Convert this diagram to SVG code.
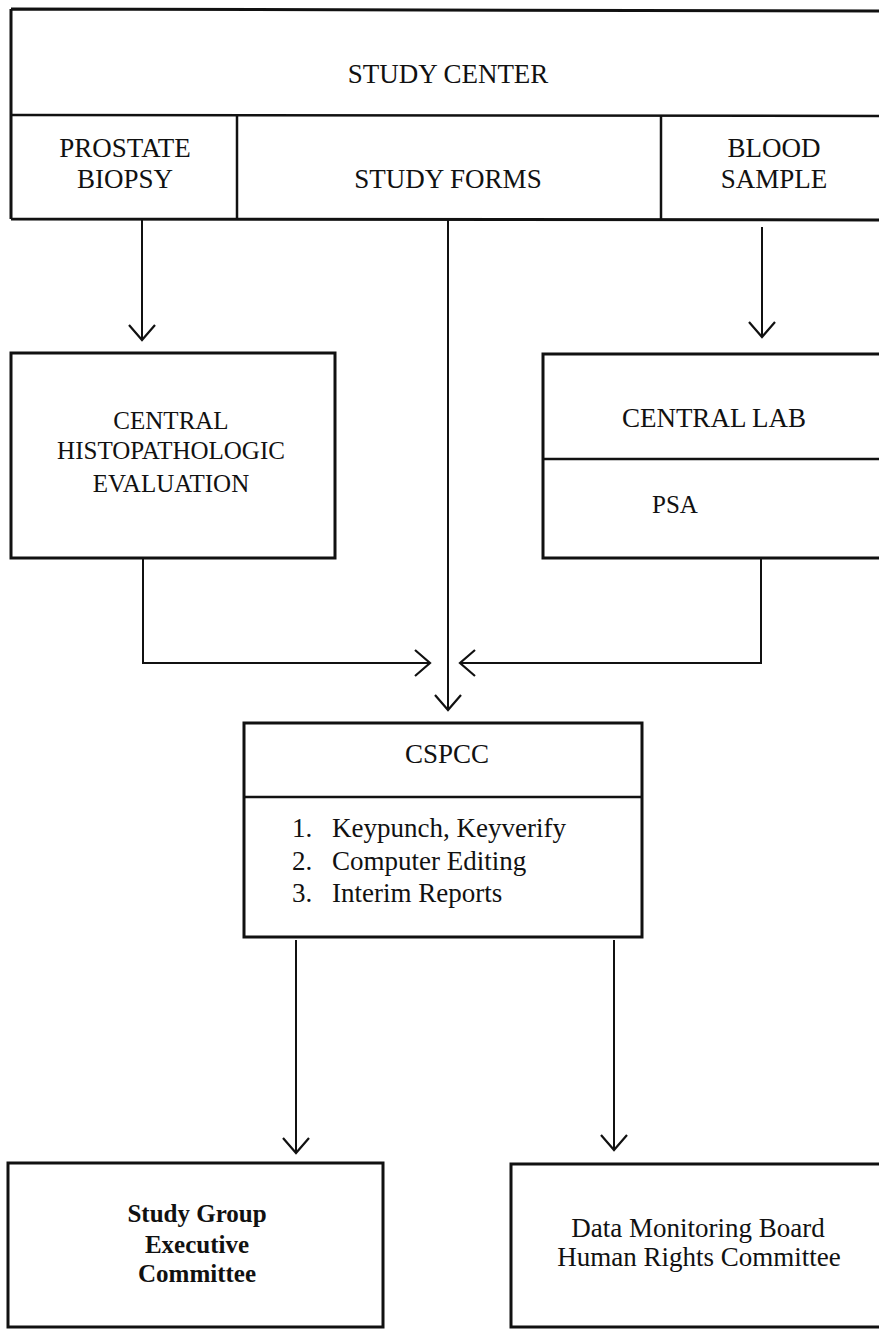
<svg xmlns="http://www.w3.org/2000/svg" width="879" height="1330" viewBox="0 0 879 1330">
  <style>
    .box { fill: none; stroke: #111; stroke-width: 3; }
    .div { fill: none; stroke: #111; stroke-width: 2.5; }
    .wire { fill: none; stroke: #111; stroke-width: 2; }
    .arrow { fill: none; stroke: #111; stroke-width: 2; marker-end: url(#vhead); }
    text { font-family: "Liberation Serif", "Times New Roman", serif; font-size: 27px; fill: #111; }
    .c { text-anchor: middle; }
    .sm { font-size: 25px; }
    .b { font-weight: bold; font-size: 25px; }
  </style>
  <defs>
    <marker id="vhead" markerUnits="userSpaceOnUse" viewBox="-18 -16 22 32" refX="0" refY="0" markerWidth="22" markerHeight="32" orient="auto">
      <path d="M -15 -13 L 0 0 L -15 13" fill="none" stroke="#111" stroke-width="2.2" stroke-linejoin="miter"/>
    </marker>
  </defs>
  <rect width="879" height="1330" fill="#fff"/>

  <!-- Study center banner with its three sources -->
  <g id="study-center">
    <path class="box" d="M 11 9 L 881 11 M 11 9 L 11 219 M 11 219 L 881 220"/>
    <path class="div" d="M 11 115 L 881 116"/>
    <text class="c" x="448" y="83">STUDY CENTER</text>
  </g>
  <g id="prostate-biopsy">
    <path class="div" d="M 237 116 L 237 219"/>
    <text class="c" x="125" y="157">PROSTATE</text>
    <text class="c" x="125" y="188">BIOPSY</text>
  </g>
  <g id="study-forms">
    <text class="c" x="448" y="188">STUDY FORMS</text>
  </g>
  <g id="blood-sample">
    <path class="div" d="M 661 116 L 661 220"/>
    <text class="c" x="774" y="157">BLOOD</text>
    <text class="c" x="774" y="188">SAMPLE</text>
  </g>

  <!-- Histopathology review -->
  <g id="histopathologic">
    <rect class="box" x="11" y="353" width="324" height="205"/>
    <text class="c sm" x="171" y="429">CENTRAL</text>
    <text class="c sm" x="171" y="459">HISTOPATHOLOGIC</text>
    <text class="c sm" x="171" y="492">EVALUATION</text>
  </g>

  <!-- Central laboratory -->
  <g id="central-lab">
    <path class="box" d="M 881 354 L 543 354 L 543 558 L 881 558"/>
    <path class="div" d="M 543 459 L 881 459"/>
    <text class="c" x="714" y="427">CENTRAL LAB</text>
    <text class="c sm" x="675" y="513">PSA</text>
  </g>

  <!-- Coordinating center -->
  <g id="cspcc">
    <rect class="box" x="244" y="723" width="398" height="214"/>
    <path class="div" d="M 244 797 L 642 797"/>
    <text class="c" x="447" y="763">CSPCC</text>
    <text x="292" y="837">1.</text>
    <text x="332" y="837">Keypunch, Keyverify</text>
    <text x="292" y="870">2.</text>
    <text x="332" y="870">Computer Editing</text>
    <text x="292" y="902">3.</text>
    <text x="332" y="902">Interim Reports</text>
  </g>

  <!-- Report recipients -->
  <g id="executive-committee">
    <rect class="box" x="8" y="1163" width="375" height="164"/>
    <text class="c b" x="197" y="1222">Study Group</text>
    <text class="c b" x="197" y="1253">Executive</text>
    <text class="c b" x="197" y="1282">Committee</text>
  </g>
  <g id="monitoring-board">
    <path class="box" d="M 881 1164 L 511 1164 L 511 1327 L 881 1327"/>
    <text class="c" x="698" y="1237">Data Monitoring Board</text>
    <text class="c" x="699" y="1266">Human Rights Committee</text>
  </g>

  <!-- Flow connectors -->
  <g id="connectors">
    <path class="arrow" d="M 142 220 L 142 340"/>
    <path class="arrow" d="M 762 227 L 762 337"/>
    <path class="arrow" d="M 448 220 L 448 710"/>
    <path class="arrow" d="M 143 558 L 143 663 L 430 663"/>
    <path class="arrow" d="M 761 558 L 761 663 L 460 663"/>
    <path class="arrow" d="M 296 940 L 296 1153"/>
    <path class="arrow" d="M 614 940 L 614 1150"/>
  </g>
</svg>
